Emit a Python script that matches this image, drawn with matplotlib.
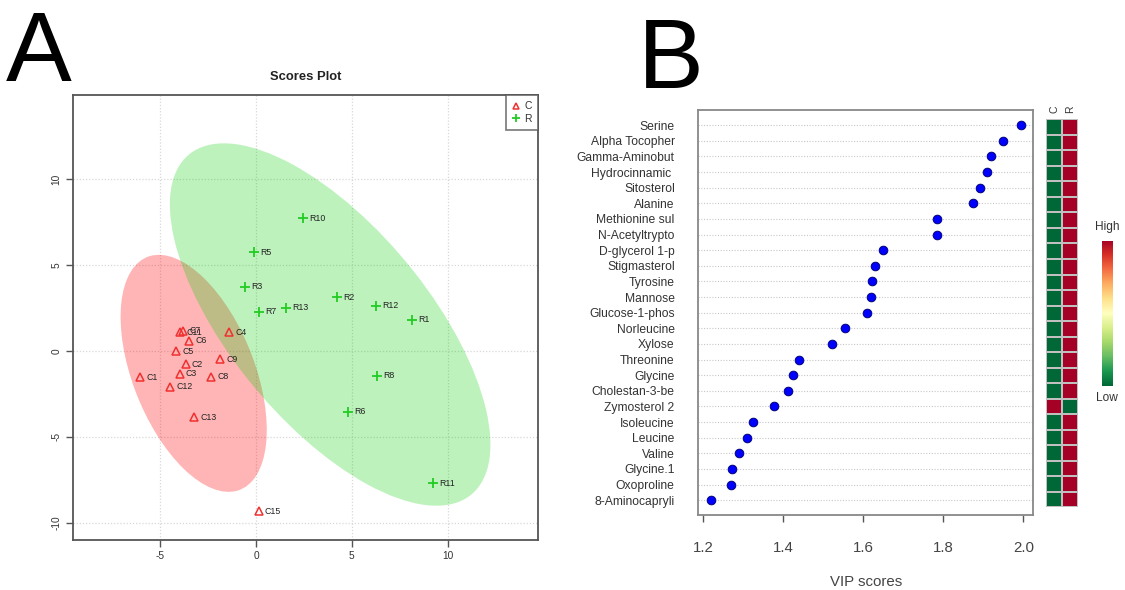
import numpy as np
import matplotlib
matplotlib.use("Agg")
import matplotlib.pyplot as plt
from matplotlib.patches import Ellipse
from matplotlib.lines import Line2D

plt.rcParams['font.family'] = ['Liberation Sans', 'DejaVu Sans']
plt.rcParams['axes.unicode_minus'] = False

# ---------------- Panel A data (PLS-DA scores) ----------------
c_labels = ["C1", "C11", "C7", "C6", "C5", "C2", "C3", "C12", "C8", "C9", "C4", "C13", "C15"]
c_x = [-6.04, -3.97, -3.80, -3.48, -4.16, -3.67, -3.99, -4.47, -2.35, -1.88, -1.42, -3.22, 0.13]
c_y = [-1.53, 1.10, 1.18, 0.59, 0.00, -0.78, -1.33, -2.08, -1.49, -0.47, 1.08, -3.86, -9.31]

r_labels = ["R10", "R5", "R3", "R7", "R13", "R2", "R12", "R1", "R8", "R6", "R11"]
r_x = [2.46, -0.13, -0.56, 0.18, 1.55, 4.25, 6.27, 8.16, 6.33, 4.79, 9.26]
r_y = [7.71, 5.75, 3.73, 2.29, 2.53, 3.12, 2.63, 1.82, -1.43, -3.53, -7.68]

a_ticks = [-10, -5, 0, 5, 10]

# ---------------- Panel B data (VIP scores) ----------------
features = ["Serine", "Alpha Tocopher", "Gamma-Aminobut", "Hydrocinnamic ", "Sitosterol",
            "Alanine", "Methionine sul", "N-Acetyltrypto", "D-glycerol 1-p", "Stigmasterol",
            "Tyrosine", "Mannose", "Glucose-1-phos", "Norleucine", "Xylose", "Threonine",
            "Glycine", "Cholestan-3-be", "Zymosterol 2", "Isoleucine", "Leucine", "Valine",
            "Glycine.1", "Oxoproline", "8-Aminocapryli"]
vip = [1.994, 1.948, 1.918, 1.908, 1.891, 1.874, 1.783, 1.783, 1.650, 1.630,
       1.621, 1.618, 1.610, 1.554, 1.522, 1.439, 1.424, 1.412, 1.377, 1.323,
       1.310, 1.290, 1.272, 1.269, 1.220]
heat_groups = ["C", "R"]
heat_c = [0, 0, 0, 0, 0, 0, 0, 0, 0, 0, 0, 0, 0, 0, 0, 0, 0, 0, 1, 0, 0, 0, 0, 0, 0]
heat_r = [1, 1, 1, 1, 1, 1, 1, 1, 1, 1, 1, 1, 1, 1, 1, 1, 1, 1, 0, 1, 1, 1, 1, 1, 1]
b_ticks = [1.2, 1.4, 1.6, 1.8, 2.0]

W, H = 1125, 590
fig = plt.figure(figsize=(W / 100, H / 100), dpi=100)


def rect(l, t, r, b):
    return [l / W, 1 - b / H, (r - l) / W, (b - t) / H]


AX_GRAY = "#555555"

# ---------------- Panel A ----------------
A_TOP, A_BOT = 95, 540
axA = fig.add_axes(rect(73.3, A_TOP, 538, A_BOT))
axA.set_xlim(-9.54, 14.72)
axA.set_ylim(-(A_BOT - 351) / 17.19, (351 - A_TOP) / 17.19)

chi_t = np.sqrt(-2 * np.log(0.05))  # 95% confidence, 2 dof
for xs, ys, col, a in [(c_x, c_y, "#FF0000", 0.29), (r_x, r_y, "#00CD00", 0.26)]:
    xs = np.asarray(xs); ys = np.asarray(ys)
    cov = np.cov(xs, ys)
    vals, vecs = np.linalg.eigh(cov)
    ang = np.degrees(np.arctan2(vecs[1, 1], vecs[0, 1]))
    e = Ellipse((xs.mean(), ys.mean()), 2 * chi_t * np.sqrt(vals[1]), 2 * chi_t * np.sqrt(vals[0]),
                angle=ang, facecolor=col, alpha=a, edgecolor="none", zorder=1)
    axA.add_patch(e)

axA.plot(c_x, c_y, linestyle="none", marker="^", markersize=5.2, markerfacecolor="none",
         markeredgecolor="#F03030", markeredgewidth=1.1, zorder=3)
axA.plot(r_x, r_y, linestyle="none", marker="+", markersize=7, markeredgecolor="#22CC22",
         markeredgewidth=1.3, zorder=3)
for lab, x, y in zip(c_labels, c_x, c_y):
    axA.annotate(lab, (x, y), xytext=(4.5, 0), textcoords="offset points", fontsize=6.3,
                 va="center", ha="left", color="#222222", zorder=4)
for lab, x, y in zip(r_labels, r_x, r_y):
    axA.annotate(lab, (x, y), xytext=(4.5, 0), textcoords="offset points", fontsize=6.3,
                 va="center", ha="left", color="#222222", zorder=4)

axA.set_xticks([t for t in a_ticks if t > -10])
axA.set_xticklabels([str(t) for t in a_ticks if t > -10])
axA.set_yticks(a_ticks)
axA.set_yticklabels([str(t) for t in a_ticks], rotation=90, va="center")
axA.grid(True, linestyle=(0, (1, 1.5)), color="#D8D8D8", linewidth=0.9)
axA.set_axisbelow(True)
axA.tick_params(axis="both", colors=AX_GRAY, labelcolor="#333333", labelsize=7.3, length=5,
                width=1.0)
axA.tick_params(axis="x", pad=3)
axA.tick_params(axis="y", pad=3.5)
for s in axA.spines.values():
    s.set_color(AX_GRAY)
    s.set_linewidth(1.3)
axA.set_title("Scores Plot", fontsize=9.4, fontweight="bold", color="#222222", pad=11)

handles = [Line2D([], [], linestyle="none", marker="^", markersize=4.5, markerfacecolor="none",
                  markeredgecolor="#F03030", markeredgewidth=1.1),
           Line2D([], [], linestyle="none", marker="+", markersize=6, markeredgecolor="#22CC22",
                  markeredgewidth=1.3)]
leg = axA.legend(handles, ["C", "R"], loc="upper right", fontsize=7.5, frameon=True,
                 fancybox=False, borderaxespad=0, handlelength=0.8, handletextpad=0.4,
                 borderpad=0.6, labelspacing=0.25, edgecolor=AX_GRAY)
leg.get_frame().set_linewidth(1.2)
for t in leg.get_texts():
    t.set_color("#333333")

# ---------------- Panel B ----------------
axB = fig.add_axes(rect(698.3, 110, 1033.3, 515))
n = len(features)
ypos = np.arange(n, 0, -1)
axB.set_xlim(1.1875, 2.025)
axB.set_ylim(0.05, n + 0.97)
for y in ypos:
    axB.axhline(y, color="#C8C8C8", linestyle=(0, (1, 1.5)), linewidth=0.8, zorder=1)
axB.plot(vip, ypos, linestyle="none", marker="o", markersize=6.2, markerfacecolor="#0000FF",
         markeredgecolor="#00007A", markeredgewidth=0.7, zorder=3)
axB.set_yticks(ypos)
axB.set_yticklabels(features)
axB.tick_params(axis="y", length=0, pad=17, labelsize=8.7, labelcolor="#333333")
axB.set_xticks(b_ticks)
axB.set_xticklabels([f"{t:.1f}" for t in b_ticks])
axB.tick_params(axis="x", length=5, width=1.0, colors=AX_GRAY, labelcolor="#444444",
                labelsize=10.8, pad=14)
axB.set_xlabel("VIP scores", fontsize=10.8, color="#444444", labelpad=14)
for s in axB.spines.values():
    s.set_color("#888888")
    s.set_linewidth(1.3)

# heatmap of group levels
axH = fig.add_axes(rect(1046, 119.3, 1078, 507.3))
mat = np.column_stack([heat_c, heat_r])
axH.pcolormesh(np.arange(3), np.arange(n + 1), mat[::-1], cmap="RdYlGn_r", vmin=0, vmax=1,
               edgecolors="#C0C0C0", linewidth=1.2)
axH.set_xlim(0, 2)
axH.set_ylim(0, n)
axH.axis("off")
for i, g in enumerate(heat_groups):
    axH.text(i + 0.5, n + 0.4, g, rotation=90, ha="center", va="bottom", fontsize=7.5,
             color="#333333")

# colour key
axC = fig.add_axes(rect(1101.7, 240.7, 1112.3, 386))
grad = np.linspace(0, 1, 256).reshape(-1, 1)
axC.imshow(grad, aspect="auto", cmap="RdYlGn_r", origin="lower")
axC.set_xticks([]); axC.set_yticks([])
for s in axC.spines.values():
    s.set_visible(False)
fig.text(1107 / W, 1 - 227 / H, "High", ha="center", va="center", fontsize=8.6, color="#333333")
fig.text(1107 / W, 1 - 398 / H, "Low", ha="center", va="center", fontsize=8.6, color="#333333")

# panel letters
fig.text(6 / W, 1 - 81 / H, "A", fontsize=71, ha="left", va="baseline", color="black")
fig.text(638 / W, 1 - 88 / H, "B", fontsize=71, ha="left", va="baseline", color="black")

fig.savefig("out.png", dpi=100)
